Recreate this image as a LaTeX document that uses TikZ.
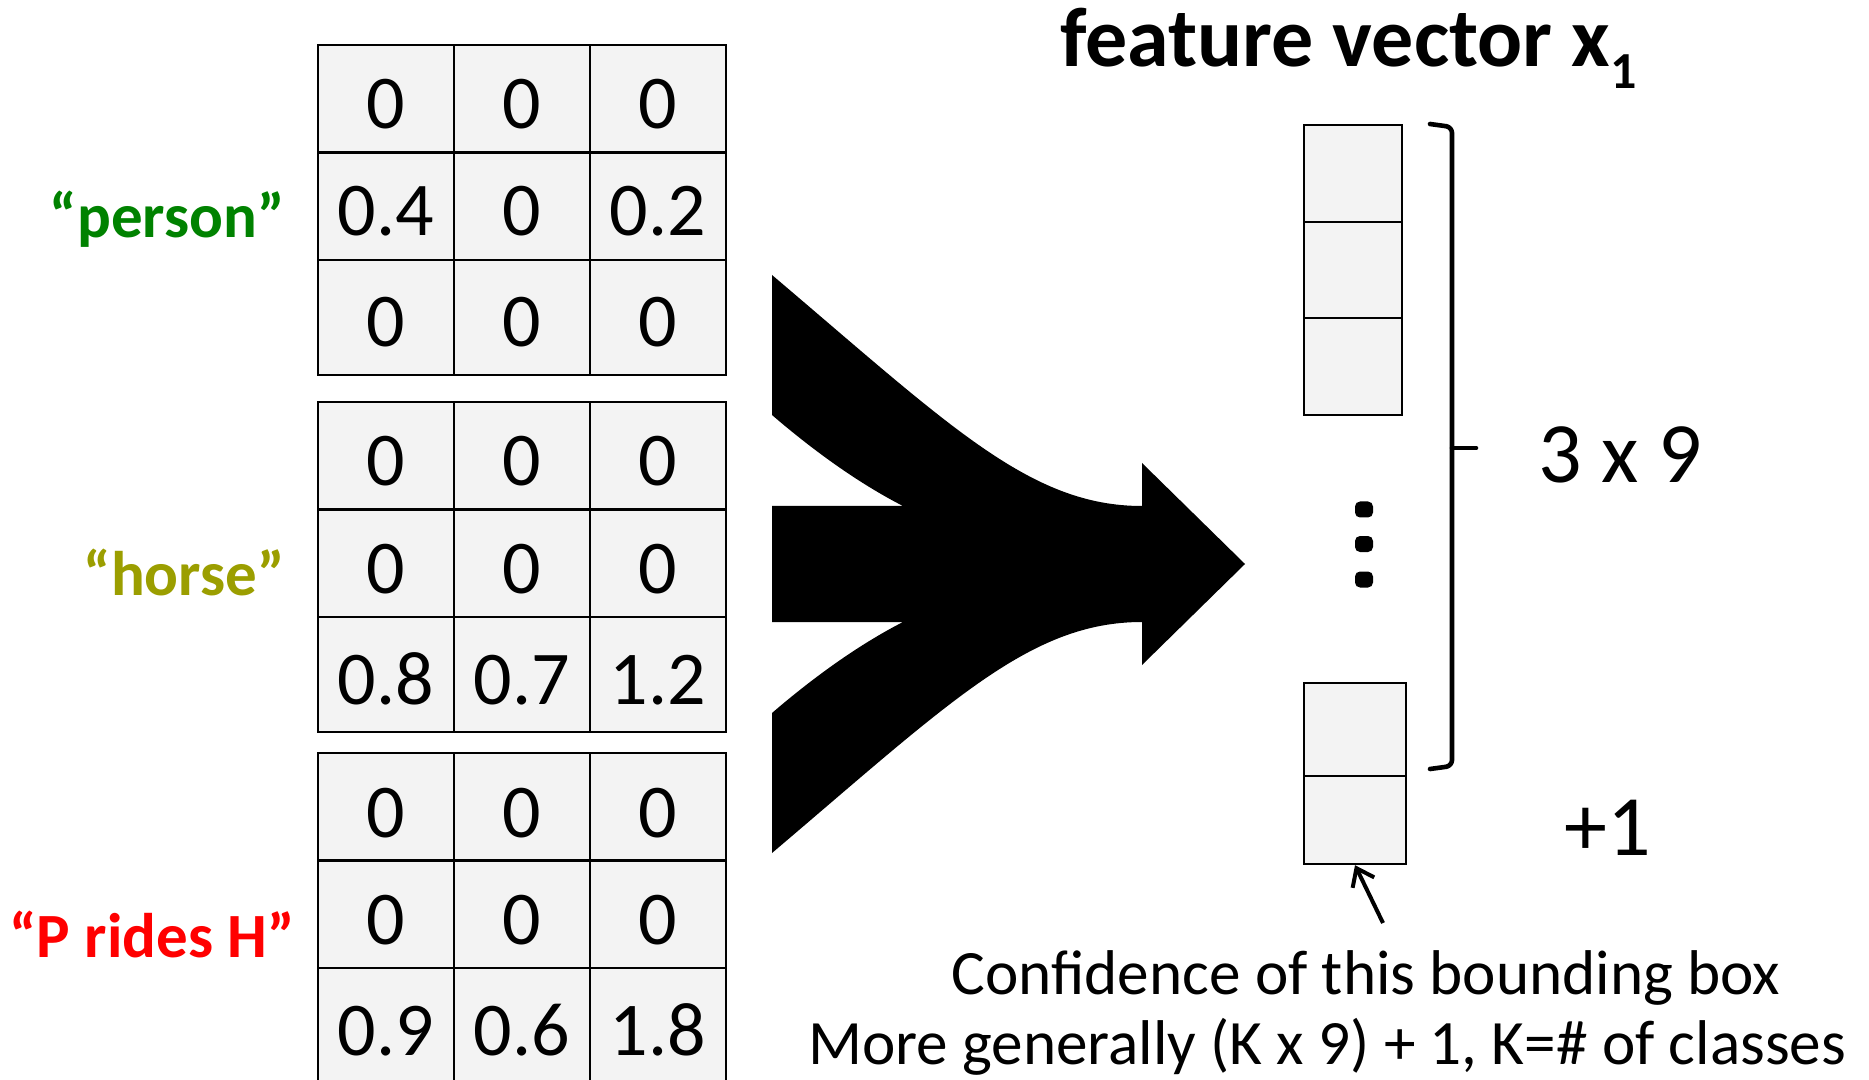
\documentclass[tikz,border=0pt]{standalone}
\usepackage{fontspec}
\setmainfont{Carlito}
\usetikzlibrary{arrows.meta}

\definecolor{cellgray}{RGB}{243,243,243}
\definecolor{persongreen}{RGB}{0,130,0}
\definecolor{horseolive}{RGB}{155,158,0}
\definecolor{ridesred}{RGB}{255,0,0}

\tikzset{
  gridline/.style={draw=black, line width=1.4pt},
  num/.style={font=\fontsize{38}{40}\selectfont, anchor=base, inner sep=0pt},
  classlbl/.style={font=\fontsize{31.5}{34}\selectfont\bfseries, anchor=base east, inner sep=0pt},
  vcell/.style={draw=black, fill=cellgray, line width=1.2pt, inner sep=0pt, minimum width=49pt},
  dotbox/.style={fill=black, rounded corners=2.5pt, inner sep=0pt, minimum width=9pt, minimum height=8pt},
  bracket/.style={line width=2.3pt, line cap=round, line join=round},
  bigtext/.style={font=\fontsize{43}{45}\selectfont, anchor=base, inner sep=0pt},
  note/.style={font=\fontsize{31.6}{34}\selectfont, anchor=base, inner sep=0pt},
  ptr/.style={line width=2pt, -{Straight Barb[length=8pt,width=12pt]}},
}

\begin{document}
\begin{tikzpicture}[x=0.5pt,y=-0.5pt]
\useasboundingbox (0,0) rectangle (1869,1080);
\clip (0,0) rectangle (1869,1080);

% three 3x3 score grids
\foreach \g/\top/\a/\b/\c/\d/\e/\f/\h/\i/\j in {
  1/45/0/0/0/0.4/0/0.2/0/0/0,
  2/402/0/0/0/0/0/0/0.8/0.7/1.2,
  3/753/0/0/0/0/0/0/0.9/0.6/1.8}{
  \fill[cellgray] (318,\top) rectangle (726,\top+330);
  \draw[gridline] (318,\top) rectangle (726,\top+330);
  \draw[gridline] (454,\top) -- (454,\top+330);
  \draw[gridline] (590,\top) -- (590,\top+330);
  \draw[gridline] (318,\top+107.5) -- (726,\top+107.5);
  \draw[gridline] (318,\top+215) -- (726,\top+215);
  \node[num] (n\g-1-1) at (386,\top+84) {\a};
  \node[num] (n\g-1-2) at (522,\top+84) {\b};
  \node[num] (n\g-1-3) at (658,\top+84) {\c};
  \node[num] (n\g-2-1) at (386,\top+191) {\d};
  \node[num] (n\g-2-2) at (522,\top+191) {\e};
  \node[num] (n\g-2-3) at (658,\top+191) {\f};
  \node[num] (n\g-3-1) at (386,\top+302) {\h};
  \node[num] (n\g-3-2) at (522,\top+302) {\i};
  \node[num] (n\g-3-3) at (658,\top+302) {\j};
}

% class labels
\node[classlbl, text=persongreen] (lperson) at (285,238) {“person”};
\node[classlbl, text=horseolive] (lhorse) at (285,596) {“horse”};
\node[classlbl, text=ridesred] (lrides) at (295,957) {“P rides H”};

% merging arrow
\fill[black] (772,275) .. controls (950,426) and (1030,506) .. (1142,506)
  -- (1142,463) -- (1245,564) -- (1142,665) -- (1142,622)
  .. controls (1030,622) and (950,702) .. (772,853)
  -- (772,713) .. controls (815,676) and (860,644) .. (903,622)
  -- (772,622) -- (772,506) -- (903,506)
  .. controls (860,484) and (815,452) .. (772,415) -- cycle;

% title
\node[font=\fontsize{42}{45}\selectfont\bfseries, anchor=base west, inner sep=0pt] (title)
  at (1060,67) {feature vector x\raisebox{-11pt}{\fontsize{26}{26}\selectfont 1}};

% feature vector cells
\node[vcell, minimum height=48.5pt] (v1) at (1353,173.5) {};
\node[vcell, minimum height=48pt] (v2) at (1353,270) {};
\node[vcell, minimum height=48.5pt] (v3) at (1353,366.5) {};
\node[vcell, minimum width=51pt, minimum height=46.5pt] (v4) at (1355,729.5) {};
\node[vcell, minimum width=51pt, minimum height=44pt] (v5) at (1355,820) {};

% vertical ellipsis
\node[dotbox] (d1) at (1364,509.5) {};
\node[dotbox] (d2) at (1364,544) {};
\node[dotbox] (d3) at (1364,579.5) {};

% bracket over the class entries
\draw[bracket, rounded corners=3pt] (1430,124) -- (1452,127) -- (1452,766) -- (1430,769);
\draw[bracket] (1452,448) -- (1476,448);

\node[bigtext] (dim) at (1620,483) {3 x 9};
\node[bigtext] (plusone) at (1608,855) {+1};

% confidence pointer and notes
\coordinate (ptrtail) at (1383,923);
\draw[ptr] (ptrtail) -- (v5.south);
\node[note] (conf) at (1366,994) {Confidence of this bounding box};
\node[note] (general) at (1327,1064) {More generally (K x 9) + 1, K=\# of classes};
\end{tikzpicture}
\end{document}
